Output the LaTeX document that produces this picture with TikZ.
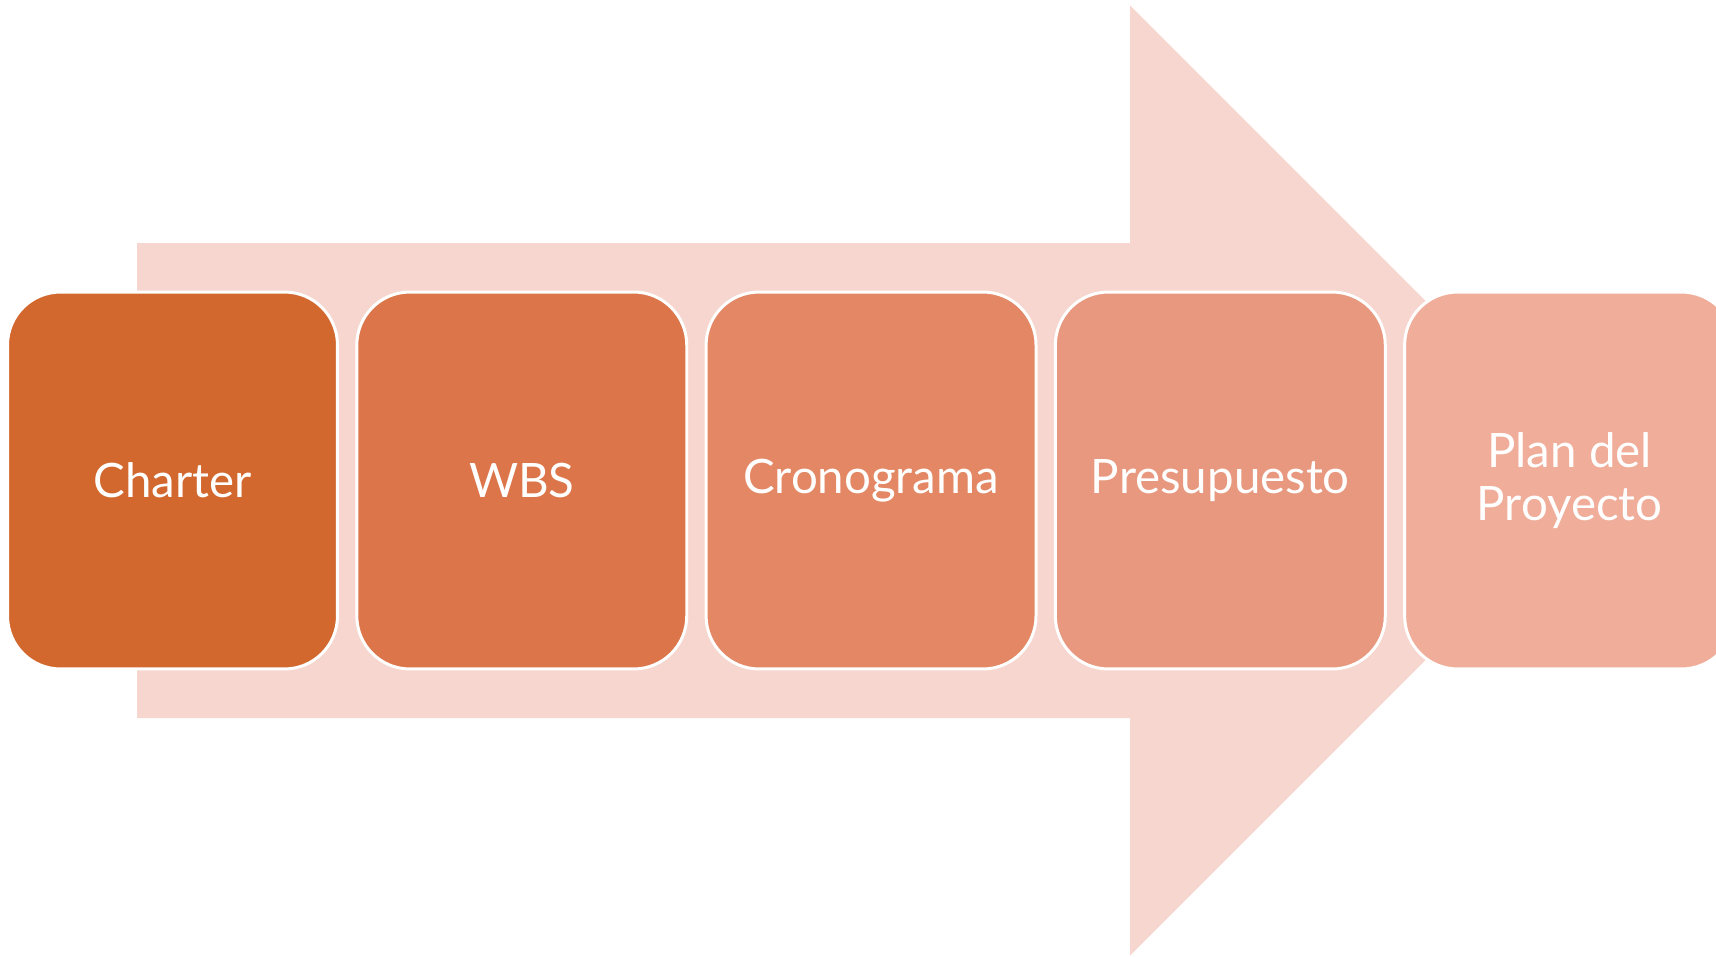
\documentclass[tikz,border=0pt]{standalone}
\usepackage{fontspec}
\setmainfont{Lato}
\usetikzlibrary{positioning}
\definecolor{arrowfill}{HTML}{F6D6CE}
\definecolor{stageA}{HTML}{D3682E}
\definecolor{stageB}{HTML}{DC7549}
\definecolor{stageC}{HTML}{E38764}
\definecolor{stageD}{HTML}{E8987E}
\definecolor{stageE}{HTML}{EFAD9A}

\begin{document}
\begin{tikzpicture}[x=0.02cm, y=-0.02cm, node distance=0.327cm,
	stage_node/.style={rectangle, rounded corners=1.06cm, draw=white, line width=1.7pt, minimum width=6.6cm, minimum height=7.54cm, text=white, align=center, font=\fontsize{27}{30.5}\selectfont}]
				
				\clip (0,0) rectangle (1716,956);
				
				% big arrow behind the stages
				\fill[arrowfill] (137,243) -- (1130,243) -- (1130,5.5) -- (1605,480.5) -- (1130,955.5) -- (1130,718) -- (137,718) -- cycle;
				
				\node[stage_node, fill=stageA] (1) at (172.5,480.5) {Charter};
				\node[stage_node, fill=stageB, right=of 1] (2) {WBS};
				\node[stage_node, fill=stageC, right=of 2] (3) {Cronograma};
				\node[stage_node, fill=stageD, right=of 3] (4) {Presupuesto};
				\node[stage_node, fill=stageE, right=of 4] (5) {Plan del\\Proyecto};
			\end{tikzpicture}
\end{document}
